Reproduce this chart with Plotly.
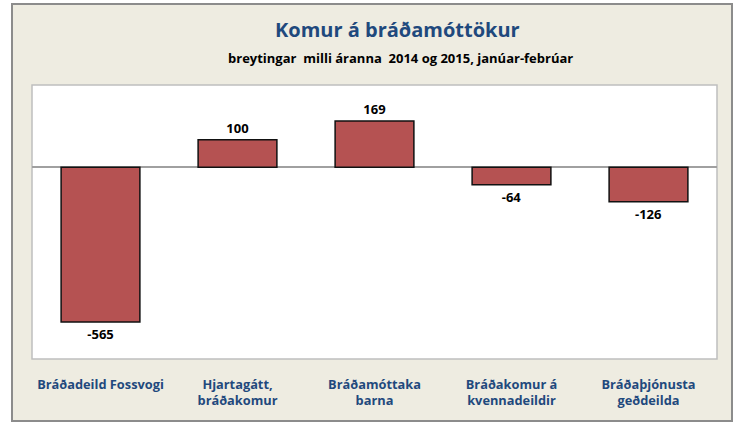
import plotly.graph_objects as go

categories = ["Bráðadeild Fossvogi", "Hjartagátt,<br>bráðakomur", "Bráðamóttaka<br>barna",
              "Bráðakomur á<br>kvennadeildir", "Bráðaþjónusta<br>geðdeilda"]
values = [-565, 100, 169, -64, -126]
labels = [str(v) for v in values]

W, H = 740, 425
L, R, T, B = 32, 23, 85, 66
pw, ph = W - L - R, H - T - B

def px(x):
    return (x - L) / pw

def py(y):
    return (H - B - y) / ph

fig = go.Figure()
fig.add_trace(go.Bar(
    x=list(range(len(categories))), y=values, text=labels, textposition="outside",
    cliponaxis=False,
    textfont=dict(family="Open Sans", size=13, color="#000000", weight="bold"),
    marker=dict(color="#B55252", line=dict(color="#111111", width=1.5)),
    width=0.575, showlegend=False, hoverinfo="skip",
))

# outer frame
fig.add_shape(type="rect", xref="paper", yref="paper",
              x0=px(12), x1=px(732), y0=py(421), y1=py(4),
              fillcolor="#EEECE1", line=dict(color="#8C8C8C", width=2), layer="below")
# plot area
fig.add_shape(type="rect", xref="paper", yref="paper",
              x0=0, x1=1, y0=0, y1=1,
              fillcolor="#FFFFFF", line=dict(color="#BFBFBF", width=1.5), layer="below")

fig.add_annotation(text="<b>Komur á bráðamóttökur</b>", xref="paper", yref="paper",
                   x=px(398), y=py(30), showarrow=False, xanchor="center", yanchor="middle",
                   font=dict(family="Open Sans", size=20, color="#1F497D"))
fig.add_annotation(text="<b>breytingar  milli áranna  2014 og 2015, janúar-febrúar</b>",
                   xref="paper", yref="paper",
                   x=px(400), y=py(58), showarrow=False, xanchor="center", yanchor="middle",
                   font=dict(family="Open Sans", size=13, color="#000000"))

fig.update_layout(
    width=W, height=H, margin=dict(l=L, r=R, t=T, b=B),
    paper_bgcolor="#FFFFFF", plot_bgcolor="rgba(0,0,0,0)",
    xaxis=dict(tickmode="array", tickvals=list(range(len(categories))), ticktext=categories,
               range=[-0.5, 4.5], showgrid=False, zeroline=False, showline=False,
               ticks="", ticklabelstandoff=16,
               tickfont=dict(family="Open Sans", size=12.8, color="#1F497D", weight="bold")),
    yaxis=dict(range=[-700, 300], showgrid=False, showticklabels=False, zeroline=True,
               zerolinecolor="#A0A0A0", zerolinewidth=1.5, showline=False),
    bargap=0.42,
)

fig.write_html("out.html", config={"displayModeBar": False},
               post_script="document.body.style.margin='0';document.body.style.overflow='hidden';")
